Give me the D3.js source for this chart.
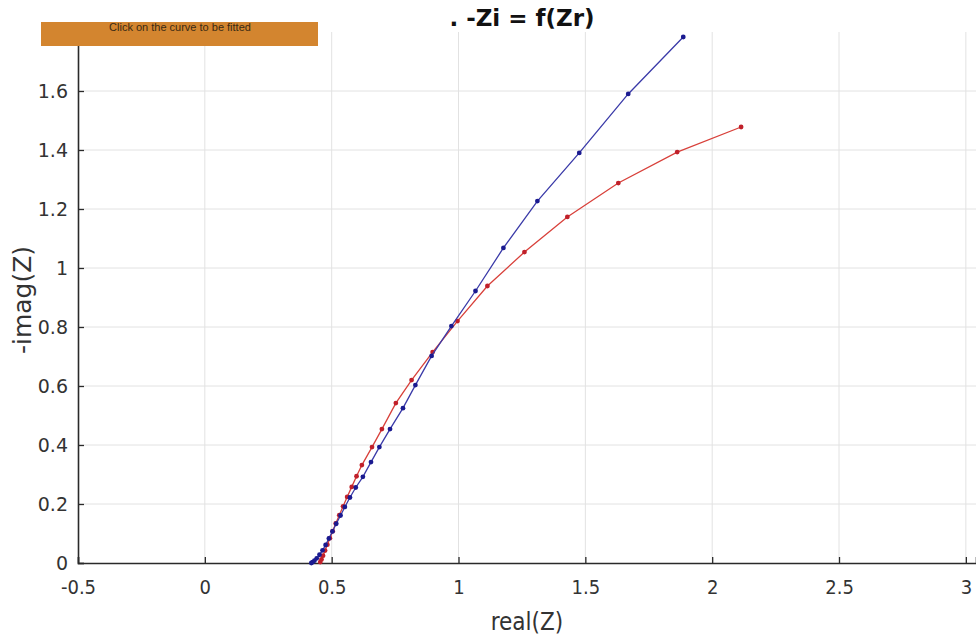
<!DOCTYPE html>
<html>
<head>
<meta charset="utf-8">
<script src="https://cdn.jsdelivr.net/npm/d3@7"></script>
<style>
  html, body { margin: 0; padding: 0; background: #fff; }
  svg { display: block; }
</style>
</head>
<body>
<svg id="chart" width="976" height="637"></svg>
<script>
// Nyquist data: real part vs. negative imaginary part
const blueRe = [0.420, 0.425, 0.432, 0.441, 0.452, 0.464, 0.476, 0.489, 0.503, 0.518, 0.535, 0.552, 0.572, 0.595, 0.623, 0.655, 0.688, 0.730, 0.781, 0.830, 0.894, 0.972, 1.067, 1.177, 1.311, 1.476, 1.669, 1.886];
const blueIm = [0.000, 0.003, 0.008, 0.016, 0.028, 0.043, 0.061, 0.083, 0.107, 0.133, 0.161, 0.190, 0.222, 0.256, 0.292, 0.342, 0.393, 0.454, 0.525, 0.603, 0.702, 0.803, 0.922, 1.068, 1.227, 1.390, 1.590, 1.783];

const redRe = [0.455, 0.460, 0.466, 0.474, 0.483, 0.493, 0.504, 0.516, 0.530, 0.545, 0.561, 0.579, 0.598, 0.619, 0.659, 0.698, 0.753, 0.815, 0.898, 0.996, 1.114, 1.260, 1.429, 1.630, 1.862, 2.114];
const redIm = [0.003, 0.012, 0.025, 0.042, 0.062, 0.084, 0.108, 0.134, 0.162, 0.192, 0.224, 0.258, 0.294, 0.332, 0.393, 0.454, 0.542, 0.620, 0.715, 0.820, 0.939, 1.054, 1.173, 1.288, 1.393, 1.478];

const xTicks = [-0.5, 0, 0.5, 1, 1.5, 2, 2.5, 3];
const yTicks = [0, 0.2, 0.4, 0.6, 0.8, 1, 1.2, 1.4, 1.6];

const svg = d3.select("#chart");
const plotLeft = 78, plotRight = 976, plotTop = 32, plotBottom = 563;

const x = d3.scaleLinear().domain([-0.5, 3.04]).range([plotLeft, plotRight]);
const y = d3.scaleLinear().domain([0, 1.8]).range([plotBottom, plotTop]);

// grid
const grid = svg.append("g");
grid.selectAll("line.vx").data(xTicks.filter(d => d > -0.5)).join("line")
  .attr("x1", d => x(d)).attr("x2", d => x(d))
  .attr("y1", plotTop).attr("y2", plotBottom)
  .attr("stroke", "#e2e2e2").attr("stroke-width", 1);
grid.selectAll("line.hy").data(yTicks.filter(d => d > 0)).join("line")
  .attr("x1", plotLeft).attr("x2", plotRight)
  .attr("y1", d => y(d)).attr("y2", d => y(d))
  .attr("stroke", "#e2e2e2").attr("stroke-width", 1);

// axes
const fmt = d => String(d);
const xAxis = svg.append("g").attr("transform", `translate(0,${plotBottom})`)
  .call(d3.axisBottom(x).tickValues(xTicks).tickFormat(fmt).tickSize(-6).tickPadding(17));
xAxis.select(".domain").attr("stroke", "#2a2a2a").attr("stroke-width", 1.6);
xAxis.selectAll(".tick line").attr("stroke", "#2a2a2a").attr("stroke-width", 1.3);
xAxis.selectAll("text")
  .attr("font-family", "'DejaVu Sans Condensed', 'DejaVu Sans', sans-serif")
  .attr("font-size", 20).attr("fill", "#333");

const yAxis = svg.append("g").attr("transform", `translate(${plotLeft},0)`)
  .call(d3.axisLeft(y).tickValues(yTicks).tickFormat(fmt).tickSize(-6).tickPadding(10));
yAxis.select(".domain").attr("stroke", "#2a2a2a").attr("stroke-width", 1.6);
yAxis.selectAll(".tick line").attr("stroke", "#2a2a2a").attr("stroke-width", 1.3);
yAxis.selectAll("text")
  .attr("font-family", "'DejaVu Sans', sans-serif")
  .attr("font-size", 19).attr("fill", "#333");

// axis titles
svg.append("text").attr("x", 527).attr("y", 630).attr("text-anchor", "middle")
  .attr("font-family", "'DejaVu Sans Condensed', 'DejaVu Sans', sans-serif")
  .attr("font-size", 24).attr("fill", "#333").text("real(Z)");
svg.append("text").attr("transform", "translate(31,300) rotate(-90)")
  .attr("text-anchor", "middle")
  .attr("font-family", "'DejaVu Sans', sans-serif")
  .attr("font-size", 25).attr("fill", "#333").text("-imag(Z)");

// title
svg.append("text").attr("x", 522).attr("y", 26).attr("text-anchor", "middle")
  .attr("font-family", "'DejaVu Sans', sans-serif").attr("font-weight", "bold")
  .attr("font-size", 23).attr("fill", "#111").text(". -Zi = f(Zr)");

// series
const series = [
  { re: redRe, im: redIm, line: "#d8403a", dot: "#c0202a" },
  { re: blueRe, im: blueIm, line: "#3a3aa8", dot: "#1a1a90" }
];
const line = d3.line().x(d => x(d[0])).y(d => y(d[1]));
series.forEach(s => {
  const pts = s.re.map((r, i) => [r, s.im[i]]);
  svg.append("path").datum(pts).attr("d", line)
    .attr("fill", "none").attr("stroke", s.line).attr("stroke-width", 1.3);
  svg.append("g").selectAll("circle").data(pts).join("circle")
    .attr("cx", d => x(d[0])).attr("cy", d => y(d[1])).attr("r", 2.4)
    .attr("fill", s.dot);
});

// button
svg.append("rect").attr("x", 41).attr("y", 22).attr("width", 277).attr("height", 24)
  .attr("fill", "#d3852f");
svg.append("text").attr("x", 180).attr("y", 31).attr("text-anchor", "middle")
  .attr("font-family", "'Liberation Sans', Arial, sans-serif")
  .attr("font-size", 11).attr("fill", "#3a2a14").text("Click on the curve to be fitted");
</script>
</body>
</html>
